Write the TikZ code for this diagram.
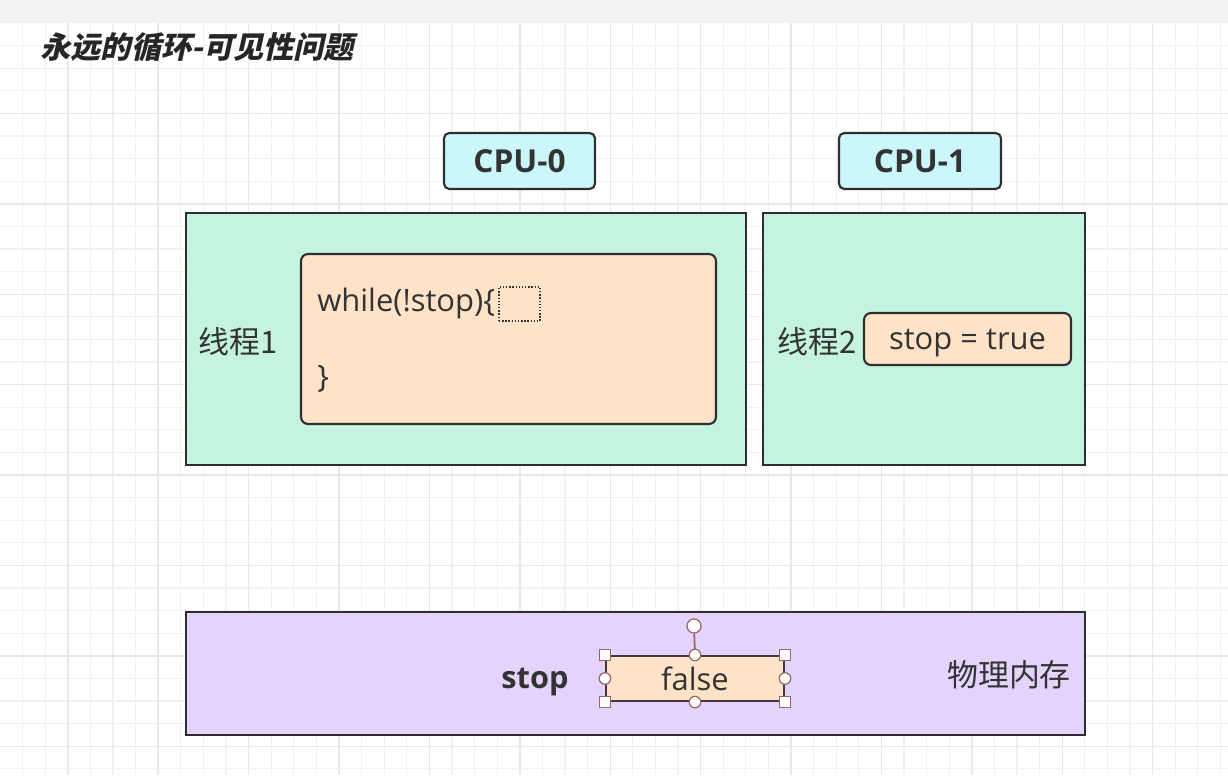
\documentclass[tikz,border=0pt]{standalone}
\usepackage{fontspec}
\setmainfont{Open Sans}
\newfontfamily\cjk{Noto Sans CJK SC}
\newfontfamily\titlefont[FakeSlant=0.22]{Noto Sans CJK SC}
\usetikzlibrary{positioning}
\definecolor{CpuCyan}{HTML}{CBF6FC}
\definecolor{ThreadGreen}{HTML}{C4F4E0}
\definecolor{CodePeach}{HTML}{FFE3C9}
\definecolor{MemLilac}{HTML}{E4D3FD}
\definecolor{EdgeDark}{HTML}{2E2E2E}
\definecolor{HandleRed}{HTML}{9A6464}
\definecolor{GridMinor}{HTML}{F1F1F1}
\definecolor{GridMajor}{HTML}{E8E8E8}
\definecolor{BandGray}{HTML}{F2F2F2}
\definecolor{InkGray}{HTML}{333333}

\begin{document}
\begin{tikzpicture}[x=0.02cm, y=-0.02cm,
  font=\fontsize{17.6}{21}\selectfont, text=InkGray,
  cpubox/.style={draw=EdgeDark, line width=1.2pt, rounded corners=3pt, fill=CpuCyan, minimum height=1.12cm, font=\fontsize{18}{21}\selectfont\bfseries},
  threadbox/.style={draw=EdgeDark, line width=1.2pt, fill=ThreadGreen, minimum width=#1, minimum height=5.04cm},
  codebox/.style={draw=EdgeDark, line width=1.2pt, rounded corners=4pt, fill=CodePeach, text depth=0pt},
  handlesq/.style={draw=HandleRed, fill=white, line width=0.7pt, minimum size=0.23cm, inner sep=0pt},
  handledot/.style={draw=HandleRed, fill=white, line width=0.7pt, circle, minimum size=0.23cm, inner sep=0pt}
]
\useasboundingbox (0,0) rectangle (1228,775);
% background grid
\fill[BandGray] (0,0) rectangle (1228,23);
\foreach \i in {1,...,54} \draw[GridMinor, line width=0.6pt] (\i*22.6,23) -- (\i*22.6,775);
\foreach \j in {1,...,33} \draw[GridMinor, line width=0.6pt] (0,23+\j*22.6) -- (1228,23+\j*22.6);
\foreach \i in {3,7,...,55} \draw[GridMajor, line width=0.8pt] (\i*22.6,23) -- (\i*22.6,775);
\foreach \j in {4,8,...,32} \draw[GridMajor, line width=0.8pt] (0,23+\j*22.6) -- (1228,23+\j*22.6);

\node[anchor=west, inner sep=0pt, text=black!85, font=\fontsize{17.2}{20}\titlefont\bfseries] (title) at (40,47) {永远的循环-可见性问题};

% cpus
\node[cpubox, minimum width=3.02cm] (cpu0) at (519.5,161) {CPU-0};
\node[cpubox, minimum width=3.24cm] (cpu1) at (920,161) {CPU-1};

% threads
\node[threadbox=11.2cm] (t1) at (466,339) {};
\node[threadbox=6.44cm] (t2) at (924,339) {};
\node (t1lbl) at (238,342) {\cjk 线程1};
\node (t2lbl) at (817,342) {\cjk 线程2};

\node[codebox, minimum width=8.3cm, minimum height=3.4cm] (loop) at (508.5,339) {};
\node[anchor=west, inner sep=0pt] (loophead) at (317,303) {while(!stop)\{};
\node[anchor=west, inner sep=0pt] (looptail) at (317,379) {\}};
\node[draw=InkGray, densely dotted, line width=0.8pt, minimum width=0.82cm, minimum height=0.68cm, inner sep=0pt] (cursor) at (519.5,304) {};

\node[codebox, minimum width=4.14cm, minimum height=1.04cm] (setstop) at (967.5,339) {stop = true};

% memory
\node[draw=EdgeDark, line width=1.2pt, fill=MemLilac, minimum width=17.98cm, minimum height=2.46cm] (mem) at (635.5,673.5) {};
\node[font=\fontsize{17.5}{20}\selectfont\bfseries] (stopvar) at (535,682) {stop};
\node (memlbl) at (1009,675) {\cjk 物理内存};
\node[draw=EdgeDark!80!HandleRed, line width=1.2pt, fill=CodePeach, minimum width=3.56cm, minimum height=0.9cm, text depth=0pt] (fv) at (695,678.5) {false};

% selection handles
\node[handledot, minimum size=0.28cm] (rot) at (694,626) {};
\draw[HandleRed, line width=1pt] (rot) -- (fv.north);
\foreach \a in {north west,north east,south west,south east}
  \node[handlesq] at (fv.\a) {};
\foreach \a in {north,south,east,west}
  \node[handledot] at (fv.\a) {};
\end{tikzpicture}
\end{document}
